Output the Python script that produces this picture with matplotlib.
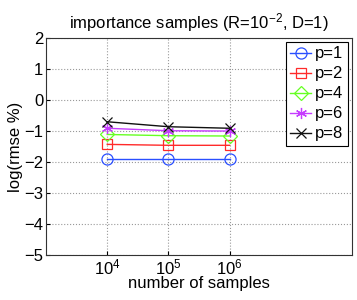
import matplotlib
matplotlib.use("Agg")
import matplotlib.pyplot as plt

plt.rcParams["font.family"] = ["Liberation Sans", "DejaVu Sans"]
plt.rcParams["mathtext.fontset"] = "custom"
plt.rcParams["mathtext.rm"] = "Liberation Sans"

samples = [1e4, 1e5, 1e6]
labels = ["p=1", "p=2", "p=4", "p=6", "p=8"]
p1 = [-1.91, -1.91, -1.91]
p2 = [-1.43, -1.46, -1.46]
p4 = [-1.11, -1.15, -1.16]
p6 = [-0.91, -0.99, -1.00]
p8 = [-0.70, -0.86, -0.91]
series = [p1, p2, p4, p6, p8]
colors = ["#2a4fff", "#ff2a2a", "#66ff22", "#c63cff", "#111111"]
markers = ["o", "s", "D", (6, 2, 0), "x"]
msizes = [8, 7, 7, 8, 7]

fig = plt.figure(figsize=(3.57, 3.0), dpi=100)
ax = fig.add_axes([0.129, 0.15, 0.857, 0.723])
for ys, lab, c, m, ms in zip(series, labels, colors, markers, msizes):
    ax.plot(samples, ys, color=c, marker=m, markersize=ms, markerfacecolor="none",
            markeredgecolor=c, markeredgewidth=0.9, linewidth=1.0, label=lab)
ax.set_xscale("log")
ax.set_xlim(1e3, 1e8)
ax.set_ylim(-5, 2)
ax.set_xticks(samples)
ax.set_xticklabels([r"$\mathregular{10^{4}}$", r"$\mathregular{10^{5}}$", r"$\mathregular{10^{6}}$"])
ax.xaxis.set_minor_locator(matplotlib.ticker.NullLocator())
ax.set_yticks(range(-5, 3))
ax.set_yticklabels([("\u2212%d" % -v) if v < 0 else str(v) for v in range(-5, 3)])
ax.grid(True, linestyle=":", color="#999999", linewidth=0.8)
ax.tick_params(direction="in", labelsize=12, length=3, pad=2)
for s in ax.spines.values():
    s.set_color("#333333")
ax.set_xlabel("number of samples", fontsize=12, labelpad=-1)
ax.set_ylabel("log(rmse %)", fontsize=12, labelpad=1)
ax.set_title(r"importance samples (R=$\mathregular{10^{-2}}$, D=1)", fontsize=12, pad=7)
leg = ax.legend(loc="upper right", fontsize=12, fancybox=False, edgecolor="black",
                framealpha=1, handlelength=1.25, handletextpad=0.25, borderpad=0.25,
                labelspacing=0.3, borderaxespad=0.25)
leg.get_frame().set_linewidth(0.8)
fig.savefig("out.png", dpi=100)
